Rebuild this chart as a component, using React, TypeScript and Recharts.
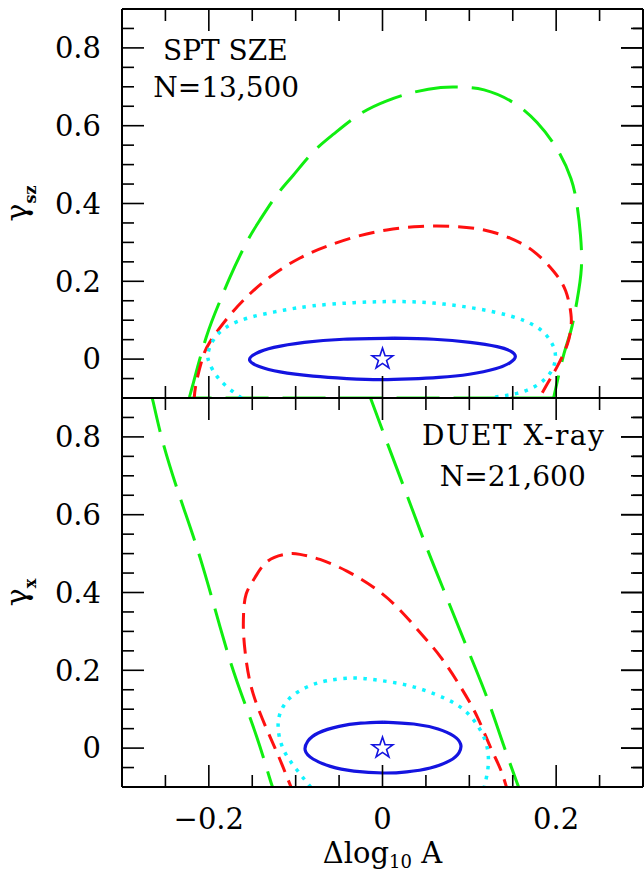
import React from 'react';
import { ComposedChart, Line, Scatter, XAxis, YAxis } from 'recharts';

const FONT = '"DejaVu Serif", serif';
const BLUE = '#1414e0';
const GREEN = '#10ee10';
const RED = '#ff1010';
const CYAN = '#10f4ff';

const X_DOMAIN: [number, number] = [-0.3, 0.3];
const Y_DOMAIN: [number, number] = [-0.1, 0.9];

const xLabelTicks = [-0.2, 0, 0.2];
const xMajorTicks = [-0.2, 0, 0.2];
const xMinorTicks = [-0.25, -0.15, -0.1, -0.05, 0.05, 0.1, 0.15, 0.25];
const yLabelTicks = [0, 0.2, 0.4, 0.6, 0.8];
const yMajorTicks = [0, 0.2, 0.4, 0.6, 0.8];
const yMinorTicks = [-0.05, 0.05, 0.1, 0.15, 0.25, 0.3, 0.35, 0.45, 0.5, 0.55, 0.65, 0.7, 0.75, 0.85];

// ---------- top panel (SPT SZE) ----------
const sptGreenArc = [
  { x: -0.223, y: -0.1 }, { x: -0.219, y: -0.071 }, { x: -0.203, y: 0.056 }, { x: -0.187, y: 0.15 },
  { x: -0.176, y: 0.209 }, { x: -0.157, y: 0.298 }, { x: -0.141, y: 0.358 }, { x: -0.122, y: 0.421 },
  { x: -0.103, y: 0.472 }, { x: -0.08, y: 0.532 }, { x: -0.056, y: 0.579 }, { x: -0.026, y: 0.63 },
  { x: 0.005, y: 0.664 }, { x: 0.036, y: 0.686 }, { x: 0.067, y: 0.698 }, { x: 0.09, y: 0.699 },
  { x: 0.117, y: 0.692 }, { x: 0.151, y: 0.659 }, { x: 0.178, y: 0.608 }, { x: 0.201, y: 0.54 },
  { x: 0.217, y: 0.464 }, { x: 0.224, y: 0.396 }, { x: 0.228, y: 0.319 }, { x: 0.229, y: 0.234 },
  { x: 0.224, y: 0.15 }, { x: 0.217, y: 0.073 }, { x: 0.209, y: 0.014 }, { x: 0.197, y: -0.1 },
];
const sptGreenBase = [
  { x: 0.197, y: -0.1 }, { x: -0.222, y: -0.1 },
];
const sptRed = [
  { x: -0.217, y: -0.11 }, { x: -0.215, y: -0.067 }, { x: -0.208, y: -0.003 }, { x: -0.199, y: 0.043 },
  { x: -0.178, y: 0.107 }, { x: -0.153, y: 0.167 }, { x: -0.126, y: 0.217 }, { x: -0.095, y: 0.26 },
  { x: -0.064, y: 0.29 }, { x: -0.03, y: 0.315 }, { x: 0.005, y: 0.332 }, { x: 0.043, y: 0.341 },
  { x: 0.082, y: 0.341 }, { x: 0.117, y: 0.332 }, { x: 0.147, y: 0.311 }, { x: 0.174, y: 0.277 },
  { x: 0.197, y: 0.226 }, { x: 0.211, y: 0.175 }, { x: 0.217, y: 0.116 }, { x: 0.217, y: 0.082 },
  { x: 0.213, y: 0.039 }, { x: 0.201, y: -0.02 }, { x: 0.19, y: -0.063 }, { x: 0.178, y: -0.11 },
];
const sptCyan = [
  { x: -0.152, y: -0.11 }, { x: -0.164, y: -0.097 }, { x: -0.187, y: -0.054 }, { x: -0.199, y: -0.012 },
  { x: -0.201, y: 0.014 }, { x: -0.195, y: 0.048 }, { x: -0.18, y: 0.082 }, { x: -0.153, y: 0.107 },
  { x: -0.118, y: 0.124 }, { x: -0.08, y: 0.137 }, { x: -0.033, y: 0.145 }, { x: 0.013, y: 0.148 },
  { x: 0.059, y: 0.144 }, { x: 0.105, y: 0.131 }, { x: 0.147, y: 0.111 }, { x: 0.178, y: 0.082 },
  { x: 0.193, y: 0.048 }, { x: 0.199, y: 0.014 }, { x: 0.195, y: -0.029 }, { x: 0.178, y: -0.067 },
  { x: 0.155, y: -0.088 }, { x: 0.132, y: -0.097 }, { x: 0.112, y: -0.106 },
];
const sptBlue = [
  { x: 0.013, y: 0.054 }, { x: 0.059, y: 0.051 }, { x: 0.101, y: 0.043 }, { x: 0.132, y: 0.032 },
  { x: 0.147, y: 0.021 }, { x: 0.153, y: 0.007 }, { x: 0.147, y: -0.009 }, { x: 0.13, y: -0.025 },
  { x: 0.1, y: -0.039 }, { x: 0.065, y: -0.047 }, { x: 0.032, y: -0.051 }, { x: -0.003, y: -0.053 },
  { x: -0.041, y: -0.05 }, { x: -0.08, y: -0.044 }, { x: -0.118, y: -0.033 }, { x: -0.142, y: -0.019 },
  { x: -0.153, y: -0.003 }, { x: -0.146, y: 0.014 }, { x: -0.125, y: 0.03 }, { x: -0.09, y: 0.043 },
  { x: -0.045, y: 0.051 }, { x: 0.013, y: 0.054 },
];
const sptNotes = [
  { x: -0.181, y: 0.769, text: 'SPT SZE', ls: 0 },
  { x: -0.18, y: 0.675, text: 'N=13,500', ls: 0 },
];

// ---------- bottom panel (DUET X-ray) ----------
const duetGreenLeft = [
  { x: -0.268, y: 0.92 }, { x: -0.264, y: 0.889 }, { x: -0.253, y: 0.787 }, { x: -0.233, y: 0.643 },
  { x: -0.21, y: 0.489 }, { x: -0.187, y: 0.311 }, { x: -0.168, y: 0.174 }, { x: -0.145, y: 0.03 },
  { x: -0.13, y: -0.077 }, { x: -0.125, y: -0.11 },
];
const duetGreenRight = [
  { x: -0.017, y: 0.92 }, { x: -0.012, y: 0.889 }, { x: 0.005, y: 0.787 }, { x: 0.028, y: 0.651 },
  { x: 0.051, y: 0.515 }, { x: 0.074, y: 0.387 }, { x: 0.097, y: 0.26 }, { x: 0.12, y: 0.132 },
  { x: 0.14, y: 0.004 }, { x: 0.157, y: -0.102 }, { x: 0.16, y: -0.12 },
];
const duetRed = [
  { x: -0.101, y: -0.12 }, { x: -0.105, y: -0.102 }, { x: -0.118, y: -0.03 }, { x: -0.133, y: 0.047 },
  { x: -0.149, y: 0.14 }, { x: -0.157, y: 0.226 }, { x: -0.16, y: 0.294 }, { x: -0.16, y: 0.345 },
  { x: -0.157, y: 0.396 }, { x: -0.147, y: 0.438 }, { x: -0.132, y: 0.481 }, { x: -0.11, y: 0.499 },
  { x: -0.095, y: 0.498 }, { x: -0.072, y: 0.485 }, { x: -0.041, y: 0.455 }, { x: -0.01, y: 0.413 },
  { x: 0.017, y: 0.362 }, { x: 0.043, y: 0.298 }, { x: 0.067, y: 0.234 }, { x: 0.09, y: 0.157 },
  { x: 0.109, y: 0.081 }, { x: 0.124, y: 0.004 }, { x: 0.136, y: -0.055 }, { x: 0.143, y: -0.102 },
  { x: 0.146, y: -0.12 },
];
const duetCyan = [
  { x: -0.075, y: -0.12 }, { x: -0.082, y: -0.102 }, { x: -0.099, y: -0.055 }, { x: -0.114, y: -0.004 },
  { x: -0.12, y: 0.047 }, { x: -0.118, y: 0.089 }, { x: -0.107, y: 0.128 }, { x: -0.087, y: 0.157 },
  { x: -0.064, y: 0.173 }, { x: -0.033, y: 0.18 }, { x: -0.003, y: 0.174 }, { x: 0.028, y: 0.162 },
  { x: 0.059, y: 0.14 }, { x: 0.086, y: 0.111 }, { x: 0.105, y: 0.072 }, { x: 0.118, y: 0.021 },
  { x: 0.122, y: -0.03 }, { x: 0.12, y: -0.072 }, { x: 0.117, y: -0.102 }, { x: 0.116, y: -0.12 },
];
const duetBlue = [
  { x: 0.001, y: 0.067 }, { x: 0.036, y: 0.062 }, { x: 0.064, y: 0.049 }, { x: 0.082, y: 0.031 },
  { x: 0.09, y: 0.01 }, { x: 0.088, y: -0.012 }, { x: 0.077, y: -0.033 }, { x: 0.055, y: -0.051 },
  { x: 0.028, y: -0.061 }, { x: 0.001, y: -0.064 }, { x: -0.033, y: -0.059 }, { x: -0.06, y: -0.047 },
  { x: -0.08, y: -0.028 }, { x: -0.089, y: -0.006 }, { x: -0.086, y: 0.018 }, { x: -0.074, y: 0.039 },
  { x: -0.05, y: 0.056 }, { x: -0.025, y: 0.064 }, { x: 0.001, y: 0.067 },
];
const duetNotes = [
  { x: 0.151, y: 0.78, text: 'DUET X-ray', ls: 1.5 },
  { x: 0.15, y: 0.675, text: 'N=21,600', ls: 0 },
];

const fiducial = [{ x: 0, y: 0 }];

// table the chart needs so that frame axes without series still get a domain
const frameTable = [...xMinorTicks, ...xMajorTicks].map((x) => ({ x }));

// ---------- shapes ----------
const StarShape = (p: any) => {
  const { cx, cy } = p;
  if (cx == null || cy == null) return null;
  const R = 11;
  const r = 4.3;
  let d = '';
  for (let i = 0; i < 10; i++) {
    const rad = i % 2 === 0 ? R : r;
    const a = -Math.PI / 2 + (i * Math.PI) / 5;
    d += (i ? 'L' : 'M') + (cx + rad * Math.cos(a)).toFixed(2) + ',' + (cy + rad * Math.sin(a)).toFixed(2);
  }
  d += 'Z';
  return <path d={d} fill="none" stroke={BLUE} strokeWidth={1.6} />;
};

const NoteShape = (p: any) => {
  const { cx, cy, payload } = p;
  if (cx == null || cy == null) return null;
  return (
    <text x={cx} y={cy} textAnchor="middle" fontFamily={FONT} fontSize={28} fill="#000" letterSpacing={payload.ls}>
      {payload.text}
    </text>
  );
};

const EmptyTick = () => <g />;

const yTitle = (sub: string) => (props: any) => {
  const vb = props.viewBox || { y: 0, height: 0 };
  const cx = 27;
  const cy = vb.y + vb.height / 2;
  return (
    <text x={cx} y={cy} transform={`rotate(-90 ${cx} ${cy})`} textAnchor="middle" fontFamily={FONT} fontSize={30} fill="#000">
      γ
      <tspan fontSize={16} fontWeight="bold" dy={9}>{sub}</tspan>
    </text>
  );
};

const xTitle = (props: any) => {
  const vb = props.viewBox || { x: 0, y: 0, width: 0 };
  const cx = vb.x + vb.width / 2;
  const cy = vb.y + 76;
  return (
    <text x={cx} y={cy} textAnchor="middle" fontFamily={FONT} fontSize={29} fill="#000">
      Δlog
      <tspan fontSize={18} dy={5}>10</tspan>
      <tspan dy={-5}> A</tspan>
    </text>
  );
};

const fmt = (v: number) => (v === 0 ? '0' : v < 0 ? '\u2212' + Math.abs(v).toString() : v.toString());

const AX = { stroke: '#000', strokeWidth: 2 };
const TL = { stroke: '#000', strokeWidth: 1.6 };

function frameAxes() {
  const c = { type: 'number' as const, allowDataOverflow: true, tick: EmptyTick, interval: 0 as const };
  return [
    <XAxis key="bM" xAxisId="bM" dataKey="x" orientation="bottom" mirror height={1} domain={X_DOMAIN} ticks={xMajorTicks} tickSize={22} axisLine={AX} tickLine={TL} {...c} />,
    <XAxis key="bm" xAxisId="bm" dataKey="x" orientation="bottom" mirror height={1} domain={X_DOMAIN} ticks={xMinorTicks} tickSize={11} axisLine={false} tickLine={TL} {...c} />,
    <XAxis key="tM" xAxisId="tM" dataKey="x" orientation="top" mirror height={1} domain={X_DOMAIN} ticks={xMajorTicks} tickSize={22} axisLine={AX} tickLine={TL} {...c} />,
    <XAxis key="tm" xAxisId="tm" dataKey="x" orientation="top" mirror height={1} domain={X_DOMAIN} ticks={xMinorTicks} tickSize={11} axisLine={false} tickLine={TL} {...c} />,
    <YAxis key="lM" yAxisId="lM" orientation="left" mirror width={1} domain={Y_DOMAIN} ticks={yMajorTicks} tickSize={22} axisLine={AX} tickLine={TL} {...c} />,
    <YAxis key="lm" yAxisId="lm" orientation="left" mirror width={1} domain={Y_DOMAIN} ticks={yMinorTicks} tickSize={11} axisLine={false} tickLine={TL} {...c} />,
    <YAxis key="rM" yAxisId="rM" orientation="right" mirror width={1} domain={Y_DOMAIN} ticks={yMajorTicks} tickSize={22} axisLine={AX} tickLine={TL} {...c} />,
    <YAxis key="rm" yAxisId="rm" orientation="right" mirror width={1} domain={Y_DOMAIN} ticks={yMinorTicks} tickSize={11} axisLine={false} tickLine={TL} {...c} />,
    <YAxis key="rM2" yAxisId="rM2" orientation="right" width={1} domain={Y_DOMAIN} ticks={yMajorTicks} tickSize={-22} axisLine={false} tickLine={TL} {...c} />,
    <YAxis key="rm2" yAxisId="rm2" orientation="right" width={1} domain={Y_DOMAIN} ticks={yMinorTicks} tickSize={-11} axisLine={false} tickLine={TL} {...c} />,
  ];
}

function dataAxes() {
  return [
    <XAxis key="dx" xAxisId="d" type="number" dataKey="x" domain={X_DOMAIN} allowDataOverflow hide height={0} />,
    <YAxis key="dy" yAxisId="d" type="number" dataKey="y" domain={Y_DOMAIN} allowDataOverflow hide width={0} />,
  ];
}

function curve(key: string, data: any[], color: string, dash: string | undefined, width: number, type: any = 'natural') {
  return (
    <Line
      key={key}
      xAxisId="d"
      yAxisId="d"
      data={data}
      dataKey="y"
      type={type}
      stroke={color}
      strokeWidth={width}
      strokeDasharray={dash}
      strokeLinecap="butt"
      dot={false}
      activeDot={false}
      isAnimationActive={false}
    />
  );
}

function yLabelAxis(sub: string) {
  return (
    <YAxis
      yAxisId="lab"
      orientation="left"
      type="number"
      width={60}
      domain={Y_DOMAIN}
      allowDataOverflow
      ticks={yLabelTicks}
      interval={0}
      tickLine={false}
      axisLine={false}
      tickSize={0}
      tickMargin={21}
      tickFormatter={fmt}
      tick={{ fontFamily: FONT, fontSize: 29, fill: '#000' }}
      label={yTitle(sub)}
    />
  );
}

export default function App() {
  return (
    <div style={{ position: 'absolute', left: 0, top: 0, width: 644, height: 871, background: '#fff' }}>
      <div style={{ position: 'absolute', left: 0, top: 0 }}>
        <ComposedChart width={644} height={400} data={frameTable} margin={{ top: 9, right: -1, bottom: 2, left: 62 }}>
          {yLabelAxis('sz')}
          {dataAxes()}
          {frameAxes()}
          {curve('g1', sptGreenArc, GREEN, '43 14', 3)}
          {curve('g2', sptGreenBase, GREEN, '43 14', 3, 'linear')}
          {curve('r', sptRed, RED, '16 9', 3)}
          {curve('c', sptCyan, CYAN, '3.5 6.5', 3.5)}
          {curve('b', sptBlue, BLUE, undefined, 3.2)}
          <Scatter xAxisId="d" yAxisId="d" data={fiducial} shape={StarShape} isAnimationActive={false} />
          <Scatter xAxisId="d" yAxisId="d" data={sptNotes} shape={NoteShape} isAnimationActive={false} />
        </ComposedChart>
      </div>
      <div style={{ position: 'absolute', left: 0, top: 397 }}>
        <ComposedChart width={644} height={474} data={frameTable} margin={{ top: 1, right: -1, bottom: 0, left: 62 }}>
          {yLabelAxis('x')}
          <XAxis
            xAxisId="labx"
            dataKey="x"
            orientation="bottom"
            type="number"
            height={84}
            domain={X_DOMAIN}
            allowDataOverflow
            ticks={xLabelTicks}
            interval={0}
            tickLine={false}
            axisLine={false}
            tickSize={0}
            tickMargin={21}
            tickFormatter={fmt}
            tick={{ fontFamily: FONT, fontSize: 29, fill: '#000' }}
            label={xTitle}
          />
          {dataAxes()}
          {frameAxes()}
          {curve('gl', duetGreenLeft, GREEN, '43 14', 3)}
          {curve('gr', duetGreenRight, GREEN, '43 14', 3)}
          {curve('r', duetRed, RED, '16 9', 3)}
          {curve('c', duetCyan, CYAN, '3.5 6.5', 3.5)}
          {curve('b', duetBlue, BLUE, undefined, 3.2)}
          <Scatter xAxisId="d" yAxisId="d" data={fiducial} shape={StarShape} isAnimationActive={false} />
          <Scatter xAxisId="d" yAxisId="d" data={duetNotes} shape={NoteShape} isAnimationActive={false} />
        </ComposedChart>
      </div>
    </div>
  );
}
